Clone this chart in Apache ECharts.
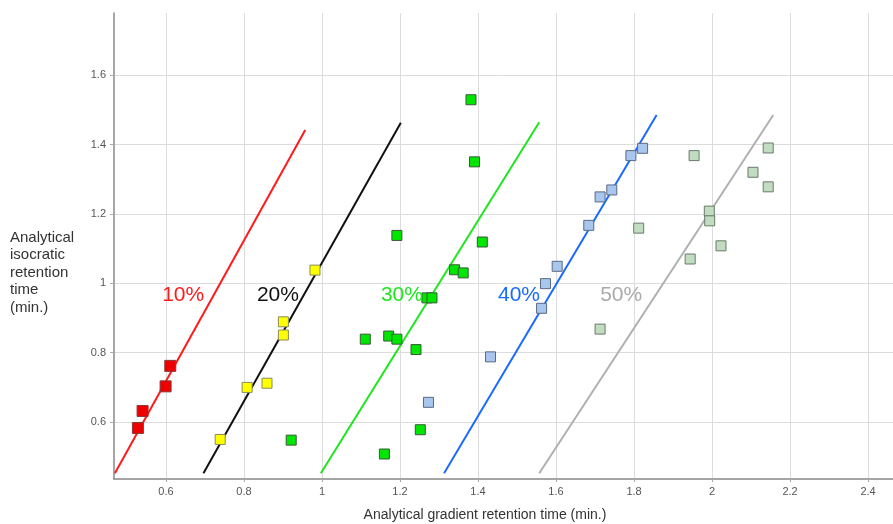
<!DOCTYPE html>
<html>
<head>
<meta charset="utf-8">
<script src="https://cdn.jsdelivr.net/npm/echarts@6/dist/echarts.min.js"></script>
<style>html,body{margin:0;padding:0;background:#fff}#c{width:893px;height:524px}</style>
</head>
<body>
<div id="c"></div>
<script>
// ---- data ----
var xTicks = [0.6, 0.8, 1, 1.2, 1.4, 1.6, 1.8, 2, 2.2, 2.4];
var yTicks = [0.6, 0.8, 1, 1.2, 1.4, 1.6];

var pts10 = [[0.528, 0.583], [0.540, 0.632], [0.599, 0.703], [0.611, 0.762]];
var pts20 = [[0.739, 0.550], [0.808, 0.700], [0.859, 0.712], [0.901, 0.889], [0.901, 0.851], [0.982, 1.038]];
var pts30 = [[0.921, 0.548], [1.111, 0.839], [1.171, 0.848], [1.192, 0.839], [1.241, 0.809], [1.252, 0.578],
             [1.160, 0.508], [1.382, 1.529], [1.391, 1.350], [1.192, 1.138], [1.411, 1.119], [1.340, 1.039],
             [1.362, 1.030], [1.269, 0.958], [1.282, 0.958]];
var pts40 = [[1.822, 1.389], [1.792, 1.368], [1.743, 1.269], [1.713, 1.249], [1.684, 1.167], [1.603, 1.049],
             [1.573, 0.999], [1.563, 0.928], [1.432, 0.788], [1.273, 0.657]];
var pts50 = [[1.954, 1.368], [2.144, 1.390], [2.105, 1.320], [2.144, 1.278], [1.993, 1.208], [1.994, 1.180],
             [2.023, 1.108], [1.944, 1.070], [1.812, 1.159], [1.713, 0.868]];

var line10 = [[0.469, 0.4525], [0.957, 1.442]];
var line20 = [[0.696, 0.4525], [1.202, 1.463]];
var line30 = [[0.997, 0.4525], [1.557, 1.464]];
var line40 = [[1.313, 0.4525], [1.858, 1.485]];
var line50 = [[1.557, 0.4525], [2.157, 1.485]];

var groupNames = ['10%', '20%', '30%', '40%', '50%'];
var labelPos = [[0.644, 0.966], [0.887, 0.966], [1.205, 0.966], [1.505, 0.966], [1.767, 0.966]];

// ---- styles ----
var lineColors = ['#ff1a1a', '#111111', '#1ee61e', '#1a6aff', '#b0b0b0'];
var textColors = ['#ff1a1a', '#111111', '#1ee61e', '#1a6aff', '#aaaaaa'];
var fillColors = ['#ee0000', '#ffff00', '#00e600', '#a9c6ee', '#c2dcc2'];
var borderColors = ['#8a3a3a', '#8a8a5a', '#3a5a3a', '#5a6a80', '#6a7a6a'];
var sizes = [11, 10, 10, 10, 10];

var ptsAll = [pts10, pts20, pts30, pts40, pts50];
var linesAll = [line10, line20, line30, line40, line50];

var series = [];
for (var i = 0; i < 5; i++) {
  series.push({
    type: 'line', data: linesAll[i], symbol: 'none', silent: true,
    lineStyle: { color: lineColors[i], width: 2 }, z: 2
  });
}
for (var j = 0; j < 5; j++) {
  series.push({
    type: 'scatter', data: ptsAll[j], symbol: 'rect', symbolSize: sizes[j],
    itemStyle: { color: fillColors[j], borderColor: borderColors[j], borderWidth: 1, opacity: 1 }, z: 3
  });
}
series.push({
  type: 'scatter', symbolSize: 0, silent: true, z: 4,
  itemStyle: { opacity: 1 },
  data: labelPos.map(function (p, k) {
    return { value: p, label: { show: true, position: 'inside', formatter: groupNames[k], color: textColors[k],
      opacity: 1, fontSize: 21, fontFamily: 'Liberation Sans, Arial, sans-serif' } };
  })
});

var chart = echarts.init(document.getElementById('c'));
chart.setOption({
  animation: false,
  backgroundColor: '#fff',
  grid: { left: 114, right: 0, top: 13, bottom: 45, containLabel: false },
  xAxis: {
    type: 'value', min: 0.4667, max: 2.464,
    axisLine: { show: true, onZero: false, lineStyle: { color: '#888', width: 1.5 } },
    axisTick: { show: true, length: 3, customValues: xTicks, lineStyle: { color: '#aaa' } },
    axisLabel: { customValues: xTicks, color: '#555', fontSize: 11, margin: 7, fontFamily: 'Liberation Sans, Arial, sans-serif' },
    splitLine: { show: true, lineStyle: { color: '#dcdcdc', width: 1 } }
  },
  yAxis: {
    type: 'value', min: 0.436, max: 1.779,
    axisLine: { show: true, onZero: false, lineStyle: { color: '#888', width: 1.5 } },
    axisTick: { show: true, length: 4, customValues: yTicks, lineStyle: { color: '#aaa' } },
    axisLabel: { customValues: yTicks, color: '#555', fontSize: 11, margin: 8, fontFamily: 'Liberation Sans, Arial, sans-serif' },
    splitLine: { show: true, lineStyle: { color: '#dcdcdc', width: 1 } }
  },
  graphic: [
    { type: 'text', left: 10, top: 229, style: { text: 'Analytical\nisocratic\nretention\ntime\n(min.)',
      fill: '#333', fontSize: 15, lineHeight: 17.5, fontFamily: 'Liberation Sans, Arial, sans-serif' } },
    { type: 'text', x: 485, y: 515, style: { text: 'Analytical gradient retention time (min.)', align: 'center',
      verticalAlign: 'middle', fill: '#333', fontSize: 14, fontFamily: 'Liberation Sans, Arial, sans-serif' } }
  ],
  series: series
});
</script>
</body>
</html>
